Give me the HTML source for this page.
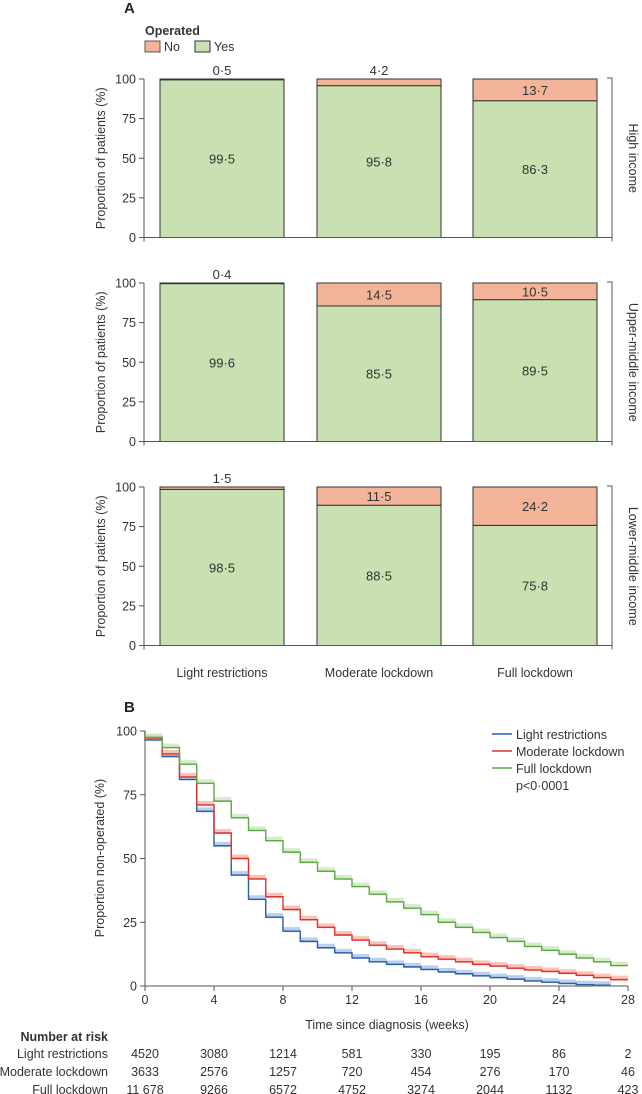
<!DOCTYPE html>
<html><head><meta charset="utf-8"><style>
body{margin:0;background:#fff}
svg{display:block;font-family:"Liberation Sans",sans-serif}
</style></head><body>
<svg id="chart" width="642" height="1094" viewBox="0 0 642 1094">
<text x="124" y="13" font-size="15" font-weight="bold" fill="#222">A</text>
<text x="145" y="35" font-size="12.5" font-weight="bold" fill="#333">Operated</text>
<g><rect x="145" y="41" width="15" height="11" fill="#f4b49a" stroke="#555"/><text x="164" y="51" font-size="12.5" fill="#333">No</text></g>
<g><rect x="195" y="41" width="15" height="11" fill="#c8e0b2" stroke="#333"/><text x="214" y="51" font-size="12.5" fill="#333">Yes</text></g>
<g id="panelA"></g>
<g id="panelB"></g>
</svg>
<script>
const NS="http://www.w3.org/2000/svg";
function mk(p,t,a,txt){const e=document.createElementNS(NS,t);for(const k in a)e.setAttribute(k,a[k]);if(txt!==undefined)e.textContent=txt;p.appendChild(e);return e;}
// ---- Panel A data ----
const categories=["Light restrictions","Moderate lockdown","Full lockdown"];
const incomeGroups=["High income","Upper-middle income","Lower-middle income"];
const yesHigh=[99.5,95.8,86.3];
const yesUpper=[99.6,85.5,89.5];
const yesLower=[98.5,88.5,75.8];
const yTicksA=[0,25,50,75,100];
const yesAll=[yesHigh,yesUpper,yesLower];
const fmt=v=>v.toFixed(1).replace('.','·');
const A=document.getElementById('panelA');
const panelTops=[79,283,487],panelH=158.5;
const barX=[160,317,473],barW=124;
panelTops.forEach((top,pi)=>{
  const g=mk(A,'g',{});
  
  
  const y=v=>top+panelH-(v/100)*panelH;
  yesAll[pi].forEach((yes,ci)=>{
    const no=100-yes;
    const x=barX[ci];
    const ry=mk(g,'rect',{x:x,y:y(yes),width:barW,height:y(0)-y(yes),fill:'#c8e0b2',stroke:'#333','stroke-width':1});
    
    
    const rn=mk(g,'rect',{x:x,y:y(100),width:barW,height:y(yes)-y(100),fill:'#f4b49a',stroke:'#333','stroke-width':1});
    
    
    mk(g,'text',{x:x+barW/2,y:y(yes/2)+5,'font-size':13,'text-anchor':'middle',fill:'#333'},fmt(yes));
    const ny=no<5?y(100)-4:(y(100)+y(yes))/2+5;
    mk(g,'text',{x:x+barW/2,y:ny,'font-size':13,'text-anchor':'middle',fill:'#333'},fmt(no));
  });
  mk(g,'line',{x1:144,y1:y(100),x2:144,y2:y(0)+4,stroke:'#555'});
  mk(g,'line',{x1:144,y1:y(0),x2:612,y2:y(0),stroke:'#555'});
  yTicksA.forEach(t=>{mk(g,'line',{x1:139,y1:y(t),x2:144,y2:y(t),stroke:'#555'});
    mk(g,'text',{x:136,y:y(t)+4.5,'font-size':12.5,'text-anchor':'end',fill:'#333'},t);});
  mk(g,'text',{transform:`translate(105,${top+panelH/2}) rotate(-90)`,'font-size':12.5,'text-anchor':'middle',fill:'#333'},'Proportion of patients (%)');
  mk(g,'path',{d:`M607 ${top-1}H612V${top+panelH+4}`,fill:'none',stroke:'#555'});
  mk(g,'text',{transform:`translate(629,${top+panelH/2}) rotate(90)`,'font-size':12.5,'text-anchor':'middle',fill:'#333'},incomeGroups[pi]);
});
categories.forEach((c,i)=>{mk(A,'text',{x:barX[i]+barW/2,y:677,'font-size':12.5,'text-anchor':'middle',fill:'#333'},c);});
// ---- Panel B data ----
const series=["Light restrictions","Moderate lockdown","Full lockdown"];
const lightVals=[96.5,90,81,68.5,55,43.5,34,27,21.5,17.5,15,13,11,9.5,8.5,7.5,6.5,5.5,4.8,4,3.3,2.7,2,1.5,1,0.5,0.3];
const moderateVals=[97,91,82,71,60,50,42,35,30,26,23,20,18,16,14.5,13,11.5,10.5,9.5,8.5,7.8,7,6.3,5.7,5,4.2,3.3,2.5];
const fullVals=[97.5,93.5,87,79.5,72.5,66,61,57,52.5,48.5,45,42,39,36,33,30.5,28,25,23,21,19,17.5,15.5,14,12.5,11,9.5,8];
const xTicksB=[0,4,8,12,16,20,24,28];
const yTicksB=[0,25,50,75,100];
const riskLight=["4520","3080","1214","581","330","195","86","2"];
const riskModerate=["3633","2576","1257","720","454","276","170","46"];
const riskFull=["11 678","9266","6572","4752","3274","2044","1132","423"];
const B=document.getElementById('panelB');
const bx=v=>145+v*(628-145)/28, by=v=>986-v*(986-731)/100;
mk(B,'text',{x:124,y:712,'font-size':15,'font-weight':'bold',fill:'#222'},'B');
mk(B,'line',{x1:bx(0),y1:by(100),x2:bx(0),y2:by(0),stroke:'#555'});
mk(B,'line',{x1:bx(0),y1:by(0),x2:bx(28),y2:by(0),stroke:'#555'});
yTicksB.forEach(t=>{mk(B,'line',{x1:bx(0)-5,y1:by(t),x2:bx(0),y2:by(t),stroke:'#555'});
  mk(B,'text',{x:bx(0)-8,y:by(t)+4.5,'font-size':12.5,'text-anchor':'end',fill:'#333'},t);});
xTicksB.forEach(t=>{mk(B,'line',{x1:bx(t),y1:by(0),x2:bx(t),y2:by(0)+5,stroke:'#555'});
  mk(B,'text',{x:bx(t),y:1004,'font-size':12.5,'text-anchor':'middle',fill:'#333'},t);});
mk(B,'text',{transform:`translate(104,858) rotate(-90)`,'font-size':12.5,'text-anchor':'middle',fill:'#333'},'Proportion non-operated (%)');
mk(B,'text',{x:387,y:1029,'font-size':12.5,'text-anchor':'middle',fill:'#333'},'Time since diagnosis (weeks)');
const colors=['#2a5ea8','#e0322a','#5aaa46'],bands=['#a9c4e8','#f6b5a8','#cfe5c0'];
[lightVals,moderateVals,fullVals].forEach((vals,si)=>{
  let d=`M${bx(0)} ${by(100)}`,band='';
  vals.forEach((v,i)=>{d+=`V${by(v)}H${bx(i+1)}`;band+=`M${bx(i)} ${by(v)-1.5}H${bx(i+1)}`;});
  mk(B,'path',{d:band,stroke:bands[si],'stroke-width':5,fill:'none',opacity:0.8});
  const p=mk(B,'path',{d:d,stroke:colors[si],'stroke-width':1.4,fill:'none'});
  
  
});
series.forEach((s,i)=>{const g=mk(B,'g',{});
  
  
  mk(g,'line',{x1:492,y1:734+i*17,x2:512,y2:734+i*17,stroke:colors[i],'stroke-width':1.4});
  mk(g,'text',{x:516,y:739+i*17,'font-size':12.5,fill:'#333'},s);});
mk(B,'text',{x:516,y:790,'font-size':12.5,fill:'#333'},'p<0·0001');
mk(B,'text',{x:108,y:1041,'font-size':12.5,'font-weight':'bold','text-anchor':'end',fill:'#333'},'Number at risk');
[riskLight,riskModerate,riskFull].forEach((row,ri)=>{
  const yy=1058+ri*18;
  mk(B,'text',{x:108,y:yy,'font-size':12.5,'text-anchor':'end',fill:'#333'},series[ri]);
  row.forEach((v,i)=>{mk(B,'text',{x:bx(xTicksB[i]),y:yy,'font-size':12.5,'text-anchor':'middle',fill:'#333'},v);});
});
</script>
</body></html>
